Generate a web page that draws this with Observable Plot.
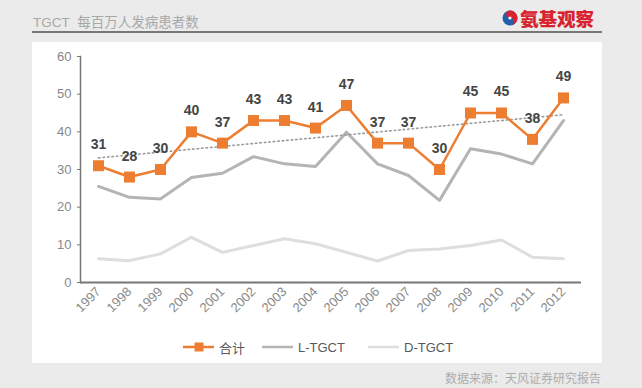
<!DOCTYPE html>
<html><head><meta charset="utf-8">
<script src="https://cdn.jsdelivr.net/npm/d3@7"></script>
<script src="https://cdn.jsdelivr.net/npm/@observablehq/plot@0.6"></script>
<style>
html,body{margin:0;padding:0;}
body{width:642px;height:388px;background:#ebebeb;position:relative;overflow:hidden;font-family:"Liberation Sans",Arial,sans-serif;}
#title{position:absolute;left:33px;top:11px;font-size:13.5px;color:#a8a8a8;font-family:"Liberation Sans","Noto Sans CJK SC",sans-serif;}
#rule{position:absolute;left:32px;top:31px;width:570px;height:2px;background:#777;}
#logo{position:absolute;left:502px;top:6px;height:24px;display:flex;align-items:center;}
#logo span{font-family:"Noto Sans CJK SC",sans-serif;font-weight:900;font-size:18.5px;color:#d8232f;line-height:24px;}
#panel{position:absolute;left:32px;top:42px;width:570px;height:321px;background:#fff;}
#chart{position:absolute;left:32px;top:42px;}
#legend{position:absolute;left:0;top:338px;width:642px;height:18px;font-size:13px;color:#595959;font-family:"Liberation Sans","Noto Sans CJK SC",sans-serif;}
.li{position:absolute;top:0;display:flex;align-items:center;height:18px;}
#source{position:absolute;left:445px;top:369px;font-size:12px;color:#adadad;font-family:"Noto Sans CJK SC",sans-serif;}
</style></head>
<body>
<div id="title">TGCT&nbsp; 每百万人发病患者数</div>
<div id="rule"></div>
<div id="logo"><svg width="16" height="16" viewBox="0 0 16 16" style="margin-right:2px"><circle cx="8" cy="8" r="7.5" fill="#1f5fae"/><path d="M8 0.5 A7.5 7.5 0 0 1 8 15.5 A3.75 3.75 0 0 0 8 8 A3.75 3.75 0 0 1 8 0.5Z" fill="#d8232f"/><circle cx="8" cy="8" r="1.6" fill="#fff"/></svg><span>氨基观察</span></div>
<div id="panel"></div>
<div id="chart"></div>
<div id="legend"></div>
<div id="source">数据来源：天风证券研究报告</div>
<script>
const years = ["1997","1998","1999","2000","2001","2002","2003","2004","2005","2006","2007","2008","2009","2010","2011","2012"];
const total = [31,28,30,40,37,43,43,41,47,37,37,30,45,45,38,49];
const lTGCT = [25.5,22.6,22.2,27.9,29.0,33.4,31.5,30.8,39.9,31.5,28.4,21.8,35.5,34.1,31.5,43.0];
const dTGCT = [6.3,5.8,7.6,12.0,8.0,9.8,11.6,10.3,8.0,5.7,8.5,8.9,9.8,11.3,6.7,6.3];
const yTicks = [0,10,20,30,40,50,60];
const seriesNames = ["合计","L-TGCT","D-TGCT"];
const colors = {"合计":"#ed7d31","L-TGCT":"#b4b4b4","D-TGCT":"#dedede"};

const totalData = years.map((y,i)=>({year:y, value:total[i]}));
const lData = years.map((y,i)=>({year:y, value:lTGCT[i]}));
const dData = years.map((y,i)=>({year:y, value:dTGCT[i]}));

const chart = Plot.plot({
  width: 570, height: 290,
  marginLeft: 48, marginTop: 14, marginBottom: 50, marginRight: 21,
  style: {fontFamily: '"Liberation Sans", Arial, sans-serif', background: "transparent"},
  x: {type: "point", domain: years, padding: 0.55, label: null},
  y: {domain: [0,60], ticks: yTicks, label: null},
  marks: [
    Plot.frame({anchor: "left", stroke: "#777", strokeWidth: 1.5}),
    Plot.axisY({ticks: yTicks, tickSize: 3, tickPadding: 6, fontSize: 13, color: "#888", stroke: "#777", label: null}),
    Plot.axisX({tickSize: 0, tickRotate: -45, tickPadding: 7, fontSize: 13, color: "#8a8a8a", label: null}),
    Plot.line(dData, {x: "year", y: "value", stroke: colors["D-TGCT"], strokeWidth: 3}),
    Plot.line(lData, {x: "year", y: "value", stroke: colors["L-TGCT"], strokeWidth: 3}),
    Plot.linearRegressionY(totalData, {x: "year", y: "value", stroke: "#9a9a9a", strokeWidth: 1.6, strokeDasharray: "1.5,3", ci: 0}),
    Plot.line(totalData, {x: "year", y: "value", stroke: colors["合计"], strokeWidth: 2.5}),
    Plot.dot(totalData, {x: "year", y: "value", symbol: "square", r: 6.2, fill: colors["合计"], stroke: "none"}),
    Plot.text(totalData, {x: "year", y: "value", text: d => String(d.value), dy: -21, fontSize: 14, fontWeight: "bold", fill: "#454545"}),
    Plot.ruleY([0], {stroke: "#777", strokeWidth: 2})
  ]
});
document.getElementById("chart").appendChild(chart);

const legend = document.getElementById("legend");
const items = [
  {name: seriesNames[0], left: 183, marker: true},
  {name: seriesNames[1], left: 262, marker: false},
  {name: seriesNames[2], left: 368, marker: false}
];
for (const it of items) {
  const div = document.createElement("div");
  div.className = "li";
  div.style.left = it.left + "px";
  const c = colors[it.name];
  div.innerHTML = `<svg width="32" height="14" style="margin-right:4px"><line x1="0" y1="7" x2="31" y2="7" stroke="${c}" stroke-width="2.5"/>${it.marker?`<rect x="11.5" y="2.5" width="9" height="9" fill="${c}"/>`:""}</svg><span>${it.name}</span>`;
  legend.appendChild(div);
}
</script>
</body></html>
